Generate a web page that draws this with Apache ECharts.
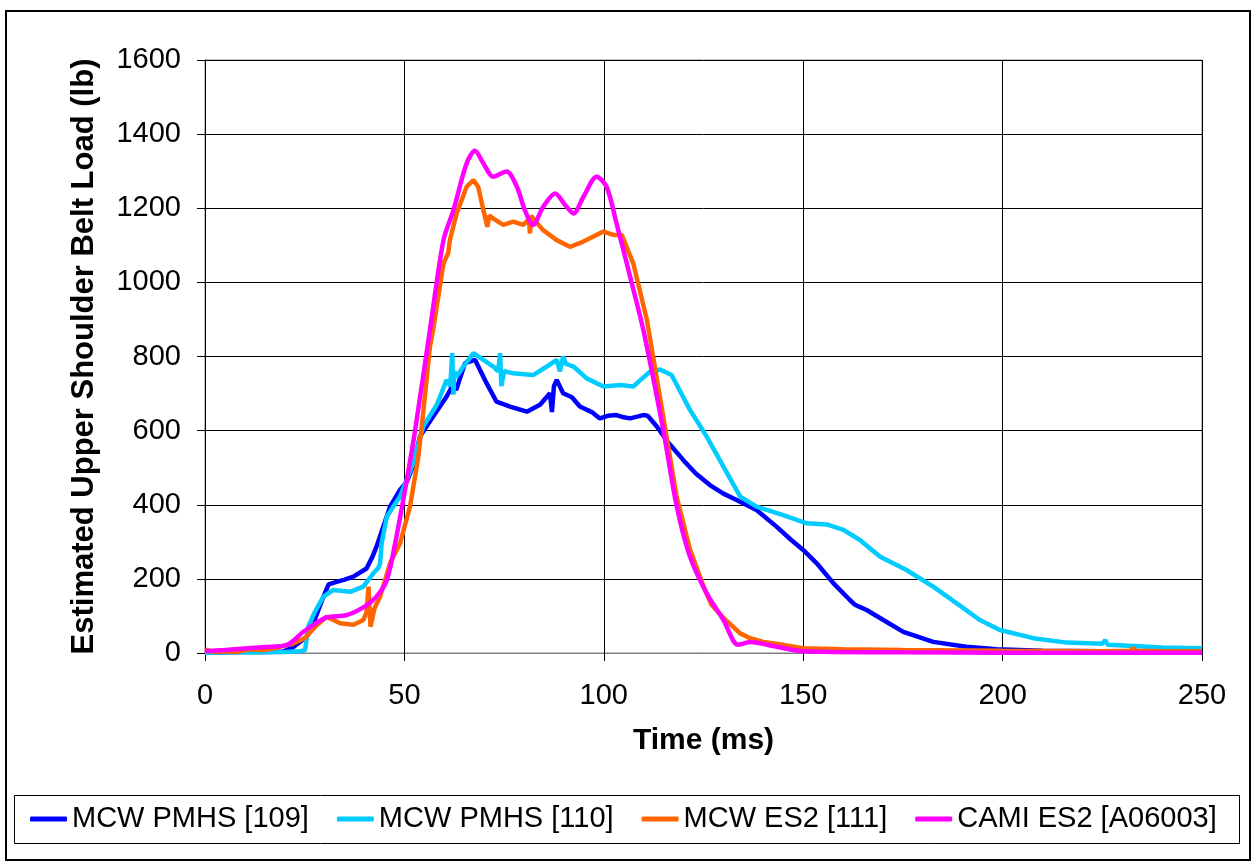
<!DOCTYPE html>
<html>
<head>
<meta charset="utf-8">
<title>Estimated Upper Shoulder Belt Load</title>
<script src="https://cdn.jsdelivr.net/npm/echarts@6/dist/echarts.min.js"></script>
<style>
  html, body { margin: 0; padding: 0; background: #fff; }
  #chart { width: 1254px; height: 863px; }
</style>
</head>
<body>
<div id="chart"></div>
<script>
// axis ticks
const xTicks = [0, 50, 100, 150, 200, 250];
const yTicks = [0, 200, 400, 600, 800, 1000, 1200, 1400, 1600];

const seriesNames = ['MCW PMHS [109]', 'MCW PMHS [110]', 'MCW ES2 [111]', 'CAMI ES2 [A06003]'];

// MCW PMHS [109]  (time ms / load lb)
const t109 = [0, 5, 10, 15, 19.6, 22, 25.5, 27.5, 29.7, 31, 33, 35, 37.2, 40.5, 42, 43, 44.7, 46.4, 48.9, 50.6, 52, 53.9, 57.2, 60.6, 62, 63, 65.2, 67.7, 70.6, 73.1, 76.5, 80.7, 84, 86.5, 87, 87.5, 88.2, 89.8, 92, 94, 97, 99, 101, 103.2, 105, 106.6, 109.9, 111, 113.3, 116, 119.9, 123, 126.6, 130, 133.3, 138.3, 143.3, 147, 150, 153.4, 157.6, 161.7, 163, 164, 165.9, 170.1, 175.1, 182.6, 190.9, 198.5, 210, 225, 240, 250];
const v109 = [0, 2, 3, 3, 4, 15, 44, 90, 152, 185, 192, 198, 206, 228, 260, 287, 341, 395, 440, 462, 500, 584, 638, 692, 720, 710, 782, 791, 728, 678, 665, 651, 670, 701, 650, 720, 737, 701, 690, 665, 650, 633, 640, 642, 636, 633, 642, 640, 611, 570, 521, 485, 453, 430, 413, 386, 341, 305, 278, 242, 188, 143, 130, 125, 116, 89, 57, 30, 17, 10, 6, 5, 4, 4];

// MCW PMHS [110]
const t110 = [0, 5, 10, 15, 20, 24, 25.1, 25.9, 27.5, 29.7, 32.2, 34, 36.4, 39.7, 42.2, 43.5, 43.9, 44.3, 45.6, 47.2, 48.9, 52.2, 54.7, 58.1, 60.6, 61.5, 62, 62.3, 62.5, 63, 64.8, 67.3, 69.8, 72.3, 73.5, 74, 74.3, 75, 77.3, 80, 82.3, 85.7, 88.2, 89, 89.8, 90.5, 92.4, 95.7, 99.9, 104.1, 107.4, 109, 111.6, 114.1, 117, 121.6, 125.8, 130, 134.2, 138.3, 145, 150.9, 155.9, 160.1, 164.2, 169.3, 175.9, 182.6, 188.5, 194.3, 199.3, 207.7, 216.1, 225, 225.7, 226.4, 232.8, 240, 249.5, 250];
const v110 = [0, 2, 3, 2, 3, 5, 8, 71, 110, 152, 170, 168, 165, 179, 215, 230, 242, 296, 368, 395, 422, 512, 611, 669, 737, 720, 809, 697, 760, 745, 773, 809, 791, 773, 760, 809, 720, 760, 755, 752, 750, 773, 791, 760, 800, 780, 773, 741, 719, 723, 719, 735, 759, 765, 750, 656, 584, 503, 422, 395, 372, 350, 347, 332, 305, 260, 224, 179, 134, 89, 62, 40, 28, 25, 35, 22, 19, 15, 13, 12];

// MCW ES2 [111]
const t111 = [0, 2, 5, 8, 10, 12, 15, 18, 20, 22, 25, 28, 30.5, 33.9, 37.2, 39.7, 40.5, 41, 41.5, 42.5, 43.9, 46.4, 48.9, 51.4, 53.5, 54.7, 56.4, 57.2, 59.8, 61, 61.4, 63.1, 65.6, 67.3, 68.5, 69.8, 70.8, 71.3, 72.3, 74.8, 77.3, 79.8, 81.2, 81.5, 81.8, 82.3, 84.8, 88.2, 91.5, 94.9, 99.9, 102.4, 104.5, 107.4, 110.8, 114.9, 118.3, 121.6, 125, 127, 130, 134.2, 136.7, 140, 145, 150, 160, 175, 200, 225, 232, 232.7, 233.5, 240, 250];
const v111 = [10, 3, 5, 3, 8, 10, 8, 15, 20, 25, 40, 75, 98, 80, 76, 89, 110, 179, 71, 120, 152, 242, 296, 395, 530, 647, 826, 872, 1051, 1080, 1114, 1186, 1258, 1276, 1258, 1195, 1150, 1180, 1172, 1155, 1164, 1155, 1170, 1132, 1180, 1172, 1141, 1114, 1096, 1110, 1137, 1128, 1128, 1051, 899, 638, 420, 280, 180, 130, 95, 53, 40, 30, 22, 13, 10, 8, 6, 5, 6, 13, 6, 5, 5];

// CAMI ES2 [A06003]
const tCami = [0, 5, 10, 15, 20.5, 25, 30.5, 35.5, 40, 43, 45.6, 48, 50.6, 52.7, 56.4, 59.8, 62.3, 65.6, 67.7, 69.8, 72.3, 75.6, 78.2, 80.2, 82.3, 84.8, 87.8, 90.3, 92.4, 94.9, 98.2, 100.7, 103.2, 106.6, 109.9, 114.9, 118.3, 121.6, 125.8, 130, 133.7, 136.7, 143.3, 150, 175, 200, 250];
const vCami = [5, 8, 12, 16, 22, 60, 96, 102, 125, 152, 197, 314, 467, 602, 871, 1114, 1195, 1321, 1355, 1321, 1285, 1299, 1258, 1195, 1155, 1204, 1240, 1209, 1186, 1231, 1285, 1258, 1159, 1015, 872, 602, 395, 260, 161, 89, 22, 30, 17, 5, 2, 1, 1];

const colors = ['#0000FF', '#00CCFF', '#FF6600', '#FF00FF'];

function zip(t, v) {
  return t.map((x, i) => [x, v[i]]);
}

const font = 'Liberation Sans, Arial, sans-serif';
const chart = echarts.init(document.getElementById('chart'));

const lineSeries = (name, data, color, smooth) => ({
  name: name,
  type: 'line',
  data: data,
  showSymbol: false,
  smooth: smooth,
  color: color,
  lineStyle: { color: color, width: 4.5 },
  animation: false
});

const option = {
  backgroundColor: '#fff',
  animation: false,
  grid: {
    left: 205, right: 52, top: 60, bottom: 210,
    show: true, borderColor: '#808080', borderWidth: 1
  },
  xAxis: {
    type: 'value',
    min: xTicks[0], max: xTicks[xTicks.length - 1], interval: 50,
    name: 'Time (ms)',
    nameLocation: 'middle',
    nameGap: 73,
    nameTextStyle: { fontFamily: font, fontSize: 30, fontWeight: 'bold', color: '#000' },
    axisLine: { show: true, onZero: false, lineStyle: { color: '#808080', width: 1 } },
    axisTick: { show: true, length: 8, lineStyle: { color: '#000' } },
    axisLabel: { fontFamily: font, fontSize: 29, color: '#000', margin: 28, formatter: v => String(v) },
    splitLine: { show: true, lineStyle: { color: '#000', width: 1 } }
  },
  yAxis: {
    type: 'value',
    min: yTicks[0], max: yTicks[yTicks.length - 1], interval: 200,
    name: 'Estimated Upper Shoulder Belt Load (lb)',
    nameLocation: 'middle',
    nameGap: 105,
    nameTextStyle: { fontFamily: font, fontSize: 31, fontWeight: 'bold', color: '#000' },
    axisLine: { show: true, lineStyle: { color: '#000', width: 1 } },
    axisTick: { show: true, length: 8, lineStyle: { color: '#000' } },
    axisLabel: { fontFamily: font, fontSize: 29, color: '#000', margin: 24, formatter: v => String(v) },
    splitLine: { show: true, lineStyle: { color: '#000', width: 1 } }
  },
  legend: {
    data: seriesNames,
    left: 30,
    top: 804,
    padding: 0,
    orient: 'horizontal',
    itemWidth: 37,
    itemHeight: 5,
    itemGap: 28,
    icon: 'roundRect',
    textStyle: { fontFamily: font, fontSize: 29, color: '#000', lineHeight: 30 }
  },
  graphic: [
    {
      type: 'rect',
      shape: { x: 6, y: 11, width: 1244, height: 849 },
      style: { fill: 'none', stroke: '#000', lineWidth: 2 },
      silent: true
    },
    {
      type: 'rect',
      shape: { x: 14.5, y: 795.5, width: 1225, height: 48 },
      style: { fill: 'none', stroke: '#000', lineWidth: 1 },
      silent: true
    }
  ],
  series: [
    lineSeries(seriesNames[0], zip(t109, v109), colors[0], false),
    lineSeries(seriesNames[1], zip(t110, v110), colors[1], false),
    lineSeries(seriesNames[2], zip(t111, v111), colors[2], false),
    lineSeries(seriesNames[3], zip(tCami, vCami), colors[3], 0.3)
  ]
};

chart.setOption(option);
</script>
</body>
</html>
